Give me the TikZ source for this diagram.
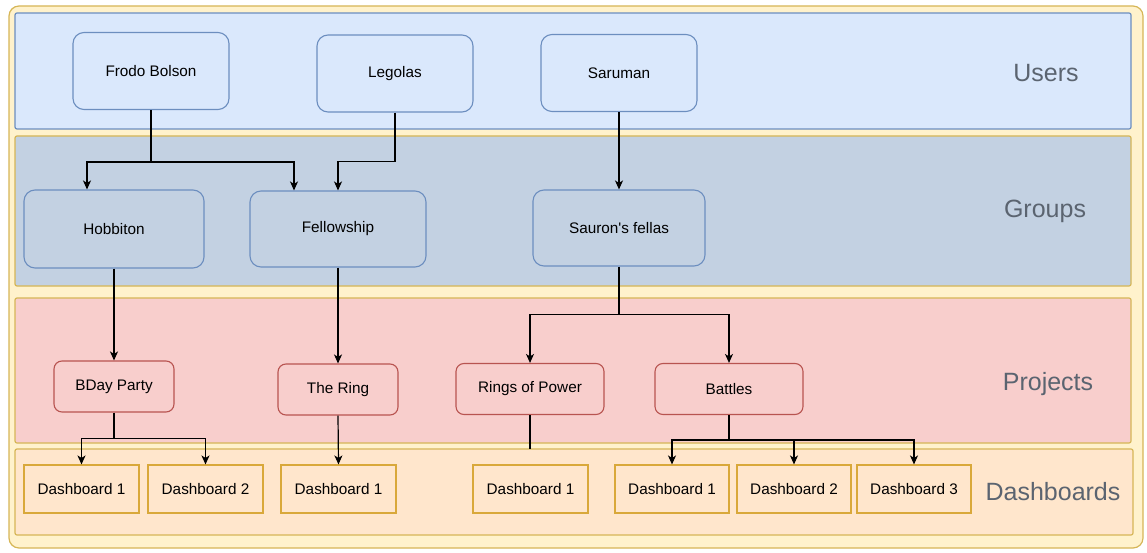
\documentclass[tikz,border=0pt]{standalone}
\usepackage{fontspec}
\setmainfont{Liberation Sans}
\newfontfamily\nfont{Liberation Sans}
\usetikzlibrary{arrows.meta,calc}
\definecolor{outerfill}{HTML}{FFF2CC}
\definecolor{outerline}{HTML}{D6B656}
\definecolor{bluefill}{HTML}{DAE8FC}
\definecolor{blueline}{HTML}{6C8EBF}
\definecolor{grpfill}{HTML}{C3D1E2}
\definecolor{redfill}{HTML}{F8CECC}
\definecolor{redline}{HTML}{B85450}
\definecolor{orgfill}{HTML}{FFE6CC}
\definecolor{dashline}{HTML}{D9A83A}
\definecolor{labgray}{HTML}{5B6470}
\tikzset{
  band/.style={line width=1.2pt},
  usernode/.style={draw=blueline, fill=bluefill, rounded corners=11pt, line width=1.1pt, inner sep=0pt,
    minimum width=156pt, minimum height=77pt, font=\nfont\fontsize{15.3}{18}\selectfont},
  grpnode/.style={usernode, fill=grpfill},
  projnode/.style={draw=redline, fill=redfill, rounded corners=8pt, line width=1.1pt, inner sep=0pt,
    minimum height=51pt, font=\nfont\fontsize{15.3}{18}\selectfont},
  dashnode/.style={draw=dashline, fill=orgfill, line width=1.1pt, inner sep=0pt,
    minimum width=115pt, minimum height=48pt, font=\nfont\fontsize{15.3}{18}\selectfont},
  lab/.style={text=labgray, font=\nfont\fontsize{25}{29}\selectfont},
  arr/.style={draw=black, line width=1.2pt, -{Stealth[length=9pt,width=8pt,inset=2.5pt]}},
  plain/.style={draw=black, line width=1.2pt}
}
\begin{document}
\begin{tikzpicture}[x=1pt,y=-1pt]
\useasboundingbox (0,0) rectangle (1147,553);
% container and bands
\draw[band, draw=outerline, fill=outerfill, rounded corners=10pt] (9,6) rectangle (1143,548);
\draw[band, draw=blueline, fill=bluefill, rounded corners=2pt] (15,13) rectangle (1131,129);
\draw[band, draw=outerline, fill=grpfill, rounded corners=2pt] (15,136) rectangle (1131,286);
\draw[band, draw=outerline, fill=redfill, rounded corners=2pt] (15,298) rectangle (1131,443);
\draw[band, draw=outerline, fill=orgfill, rounded corners=2pt] (15,449) rectangle (1133,535);
% band labels
\node[lab] (lusers) at (1046,73) {Users};
\node[lab] (lgroups) at (1045,211) {Groups};
\node[lab] (lprojects) at (1048,384) {Projects};
\node[lab] (ldash) at (1053,492) {Dashboards};
% users
\node[usernode] (frodo) at (151,71) {Frodo Bolson};
\node[usernode] (leg) at (395,73.5) {Legolas};
\node[usernode] (sar) at (619,73) {Saruman};
% groups
\node[grpnode, minimum width=180pt, minimum height=78pt] (hob) at (114,229) {Hobbiton};
\node[grpnode, minimum width=176pt, minimum height=76pt] (fel) at (338,229) {Fellowship};
\node[grpnode, minimum width=172pt, minimum height=76pt] (sau) at (619,228) {Sauron's fellas};
% projects
\node[projnode, minimum width=120pt] (bday) at (114,386.5) {BDay Party};
\node[projnode, minimum width=120pt] (ring) at (338,389.5) {The Ring};
\node[projnode, minimum width=148pt] (rop) at (530,389) {Rings of Power};
\node[projnode, minimum width=148pt] (bat) at (729,389) {Battles};
% dashboards
\node[dashnode] (d1a) at (81.5,489) {Dashboard 1};
\node[dashnode] (d2a) at (205.5,489) {Dashboard 2};
\node[dashnode] (d1b) at (338.5,489) {Dashboard 1};
\node[dashnode] (d1c) at (530.5,489) {Dashboard 1};
\node[dashnode, minimum width=114pt] (d1d) at (672,489) {Dashboard 1};
\node[dashnode, minimum width=114pt] (d2d) at (794,489) {Dashboard 2};
\node[dashnode, minimum width=114pt] (d3d) at (914,489) {Dashboard 3};
% junction coordinates
\coordinate (fj) at ($(frodo.south)+(0,52)$);
\coordinate (sj) at ($(sau.south)+(0,48)$);
\coordinate (bj) at ($(bday.south)+(0,26)$);
\coordinate (tj) at ($(bat.south)+(0,25)$);
\coordinate (rope) at ($(rop.south)+(0,34)$);
% connectors
\draw[arr] (frodo.south) -- (fj) -| ([xshift=-27pt]hob.north);
\draw[arr] (fj) -| ([xshift=-44pt]fel.north);
\draw[arr] (leg.south) -- ++(0,49) -| (fel.north);
\draw[arr] (sar.south) -- (sau.north);
\draw[arr] (hob.south) -- (bday.north);
\draw[arr] (fel.south) -- (ring.north);
\draw[arr] (sau.south) -- (sj) -| (rop.north);
\draw[arr] (sj) -| (bat.north);
\draw[arr] (bday.south) -- (bj) -| (d1a.north);
\draw[arr] (bj) -| (d2a.north);
\draw[arr] (ring.south) -- (d1b.north);
\draw[plain] (rop.south) -- (rope);
\draw[arr] (bat.south) -- (tj) -| (d1d.north);
\draw[arr] (tj) -| (d2d.north);
\draw[arr] (tj) -| (d3d.north);
\end{tikzpicture}
\end{document}
